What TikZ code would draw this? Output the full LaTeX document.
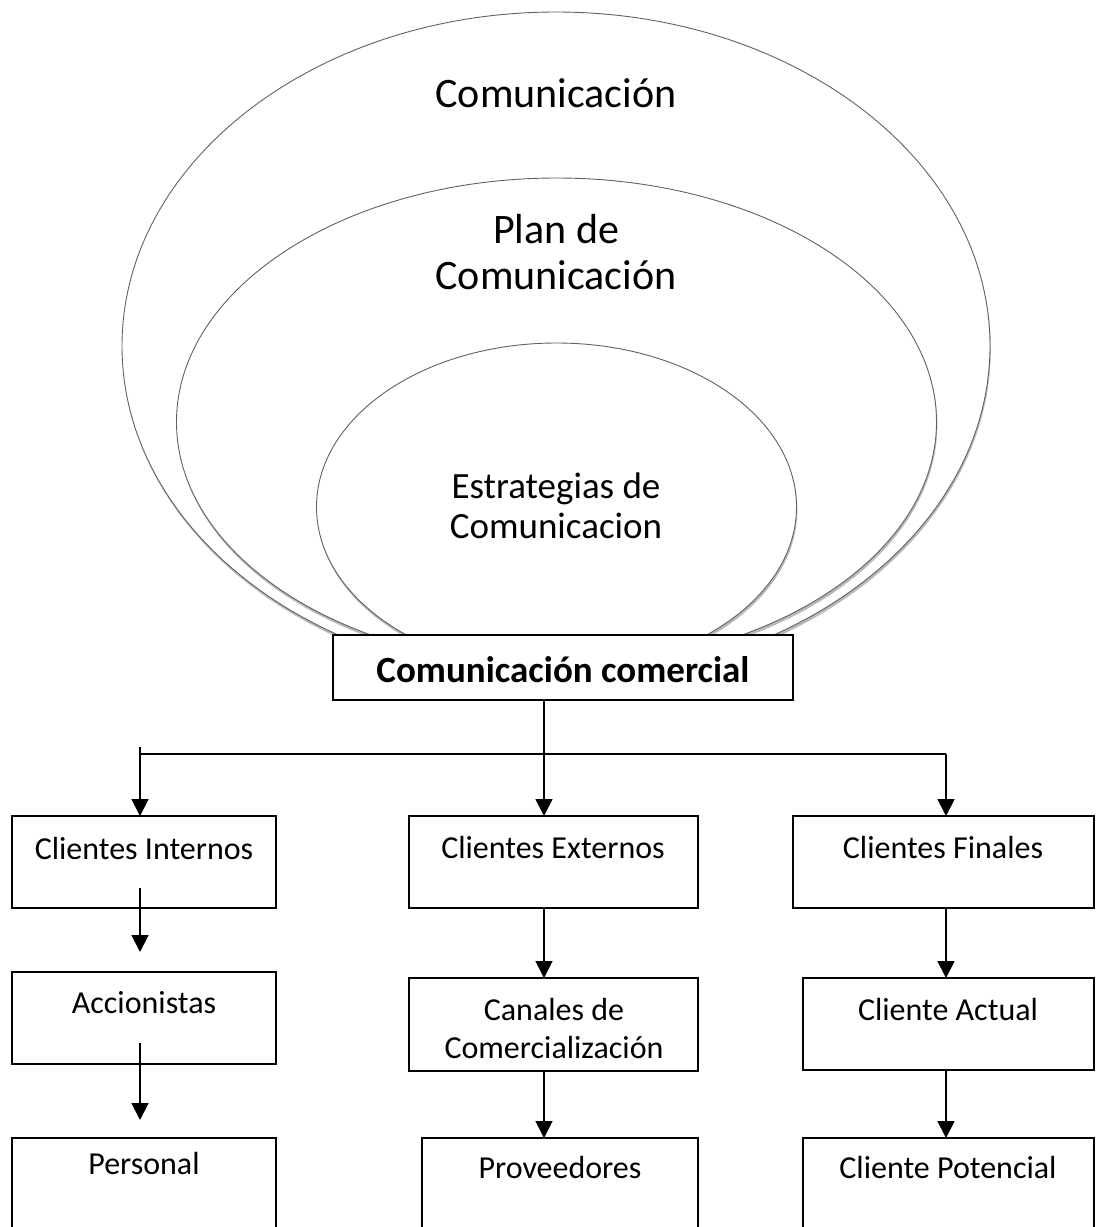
\documentclass[tikz,border=0pt]{standalone}
\usepackage{fontspec}
\setmainfont{Carlito}
\usetikzlibrary{arrows.meta,shadows,calc}

\begin{document}
\begin{tikzpicture}[x=1pt,y=-1pt,
  ring/.style={draw=black!62, line width=0.9pt, fill=white,
    drop shadow={shadow xshift=0.8pt, shadow yshift=-3pt, opacity=0.55}},
  box/.style={draw, line width=1.7pt, fill=white, rectangle,
    inner sep=0pt, outer sep=0pt, anchor=north west},
  big/.style={font=\fontsize{42}{46}\selectfont, align=center, anchor=base, inner sep=0pt},
  mid/.style={font=\fontsize{37}{40}\selectfont, align=center, anchor=base, inner sep=0pt},
  lbl/.style={font=\fontsize{32}{38}\selectfont, align=center, anchor=base, inner sep=0pt},
  link/.style={line width=1.8pt},
  arr/.style={line width=1.8pt, -{Triangle[width=17pt,length=17pt]}},
]
\useasboundingbox (0,0) rectangle (1096,1227);
\clip (0,0) rectangle (1096,1227);

% nested ellipses
\path[ring] (556,346) ellipse [x radius=434, y radius=334];
\path[ring] (556.5,422) ellipse [x radius=380, y radius=244];
\path[ring] (556.5,507) ellipse [x radius=240, y radius=164];

% ellipse labels (base anchor sits on the last line)
\node[big] (t-com) at (556,107) {Comunicación};
\node[big] (t-plan) at (556,289) {Plan de\\Comunicación};
\node[mid] (t-est) at (556,538) {Estrategias de\\Comunicacion};

% central box
\node[box, minimum width=460pt, minimum height=65pt] (com) at (333,635) {};
\node[mid, font=\fontsize{37}{40}\selectfont\bfseries] (t-cc) at (563,682) {Comunicación comercial};

% boxes
\node[box, minimum width=264pt, minimum height=92pt] (ci) at (12,816) {};
\node[box, minimum width=264pt, minimum height=92pt] (acc) at (12,972) {};
\node[box, minimum width=264pt, minimum height=130pt] (per) at (12,1138) {};

\node[box, minimum width=289pt, minimum height=92pt] (ce) at (409,816) {};
\node[box, minimum width=289pt, minimum height=93pt] (can) at (409,978) {};
\node[box, minimum width=276pt, minimum height=130pt] (pro) at (422,1138) {};

\node[box, minimum width=301pt, minimum height=92pt] (cf) at (793,816) {};
\node[box, minimum width=291pt, minimum height=92pt] (ca) at (803,978) {};
\node[box, minimum width=291pt, minimum height=130pt] (cp) at (803,1138) {};

\node[lbl] (t-ci) at (144,859) {Clientes Internos};
\node[lbl] (t-acc) at (144,1013) {Accionistas};
\node[lbl] (t-per) at (144,1174) {Personal};
\node[lbl] (t-ce) at (553,858) {Clientes Externos};
\node[lbl] (t-can) at (554,1058) {Canales de\\Comercialización};
\node[lbl] (t-pro) at (560,1178) {Proveedores};
\node[lbl] (t-cf) at (943,858) {Clientes Finales};
\node[lbl] (t-ca) at (948,1020) {Cliente Actual};
\node[lbl] (t-cp) at (948,1178) {Cliente Potencial};

% connectors
\coordinate (stub) at (140,747);
\coordinate (barL) at (140,754);
\coordinate (barM) at (544,754);
\coordinate (barR) at (946,754);

\draw[link] (barL) -- (barR);
\draw[arr] (stub) -- (ci.north -| stub);
\draw[arr] (com.south -| barM) -- (ce.north -| barM);
\draw[arr] (barR) -- (cf.north -| barR);

\draw[arr] ($(ci.south -| stub)+(0,-20)$) -- ($(acc.north -| stub)+(0,-20)$);
\draw[arr] ($(acc.south -| stub)+(0,-21)$) -- ($(per.north -| stub)+(0,-18)$);

\draw[arr] (ce.south -| barM) -- (can.north -| barM);
\draw[arr] (can.south -| barM) -- (pro.north -| barM);

\draw[arr] (cf.south -| barR) -- (ca.north -| barR);
\draw[arr] (ca.south -| barR) -- (cp.north -| barR);
\end{tikzpicture}
\end{document}
